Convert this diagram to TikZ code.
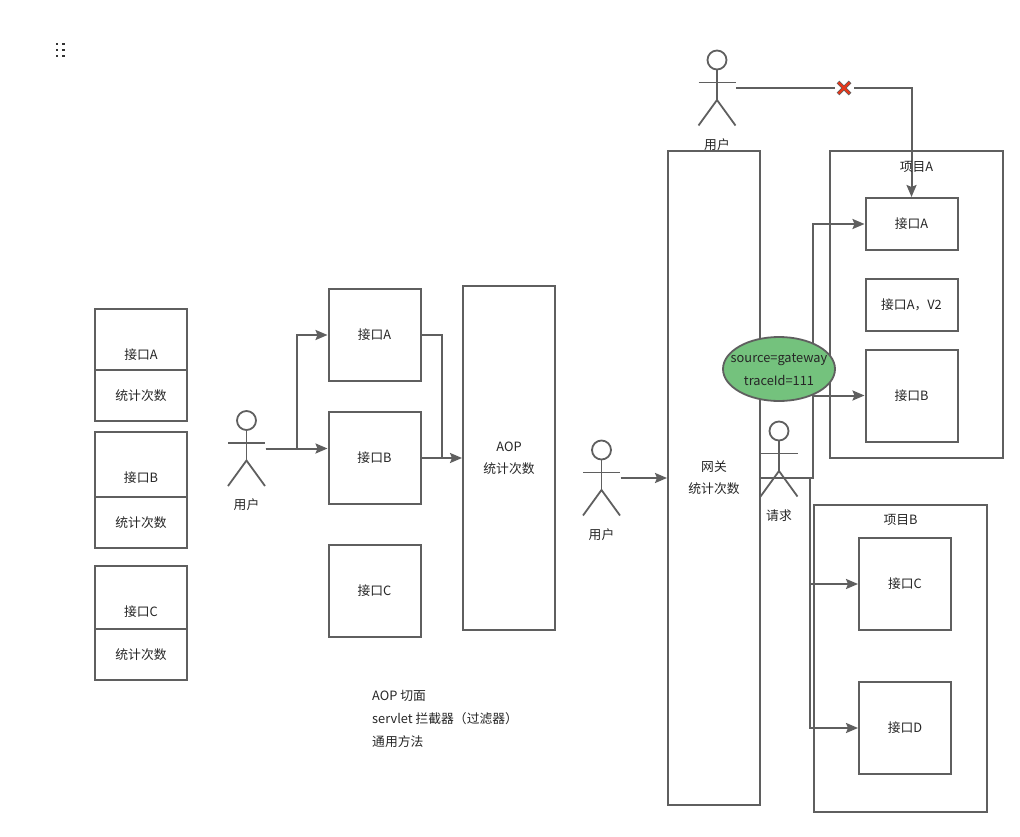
\documentclass[tikz,border=0pt]{standalone}
\usepackage{fontspec}
\setmainfont{Noto Sans CJK SC}
\usetikzlibrary{arrows.meta,shapes.geometric}
\definecolor{linegray}{HTML}{5F5F5F}
\definecolor{ovalgreen}{HTML}{74C27D}
\definecolor{crossred}{HTML}{E5381B}
\tikzset{
	box/.style={draw=linegray,line width=2pt,fill=white,minimum width=#1,inner sep=0pt,align=center,font=\fontsize{12.8}{22}\selectfont,text=black!85},
	box/.default=92pt,
	word/.style={inner sep=0pt,font=\fontsize{12.8}{22}\selectfont,text=black!85},
	actorbox/.style={minimum width=38pt,minimum height=75pt,inner sep=0pt},
	conn/.style={draw=linegray,line width=2pt,>={Stealth[length=12pt,width=10pt,inset=2pt]}},
}
% stick figure: name, x, y, text
\newcommand{\actorfig}[4]{
	\node[actorbox] (#1) at (#2,#3) {};
	\begin{scope}[shift={(#2,#3)},draw=linegray,line width=1.8pt]
		\draw (0,-28) circle (9.5pt);
		\draw (0,-18.5)--(0,12) (-18.5,-5.5)--(18.5,-5.5);
		\draw (-18.5,37.5)--(0,12)--(18.5,37.5);
	\end{scope}
	\node[word] (#1text) at (#2,#3+56.5) {#4};
}
\begin{document}
\begin{tikzpicture}[x=1pt,y=-1pt]
	\useasboundingbox (0,0) rectangle (1020,837);
	% handle in the corner
	\foreach \px in {56.7,63.3}
		\foreach \py in {44.3,50.2,56}
			\fill[black!80] (\px-1.2,\py-1.2) rectangle (\px+1.2,\py+1.2);

	% left column
	\node[box,minimum height=92pt] (leftA) at (141,355) {接口A};
	\node[box,minimum height=51pt] (countA) at (141,395.5) {统计次数};
	\node[box,minimum height=92pt] (leftB) at (141,478) {接口B};
	\node[box,minimum height=51pt] (countB) at (141,522.5) {统计次数};
	\node[box,minimum height=92pt] (leftC) at (141,612) {接口C};
	\node[box,minimum height=51pt] (countC) at (141,654.5) {统计次数};

	% middle column
	\actorfig{userA}{246.5}{448.5}{用户}
	\node[box,minimum height=92pt] (midA) at (374.5,335) {接口A};
	\node[box,minimum height=92pt] (midB) at (374.5,458) {接口B};
	\node[box,minimum height=92pt] (midC) at (374.5,591) {接口C};
	\node[box,minimum height=344pt] (aop) at (509,458) {AOP\\统计次数};
	\coordinate (forkA) at (296.5,448.5);
	\coordinate (forkB) at (442,458);
	\draw[conn,->] (userA.east)--(forkA) |- (midA.west);
	\draw[conn,->] (userA.east)--(midB.west |- userA.east);
	\draw[conn] (midA.east) -| (forkB);
	\draw[conn,->] (midB.east)--(aop.west);
	\node[word,anchor=north west,align=left,font=\fontsize{12.8}{23}\selectfont] (notes) at (372,690) {AOP 切面\\servlet 拦截器（过滤器）\\通用方法};

	% gateway and projects
	\actorfig{userB}{601.5}{478}{用户}
	\node[box,minimum height=654pt] (gateway) at (714,478) {网关\\统计次数};
	\draw[conn,->] (userB.east)--(gateway.west);
	\node[box,minimum width=173pt,minimum height=307pt] (projA) at (916.5,304.5) {};
	\node[box,minimum height=52pt] (rightA) at (911.5,224) {接口A};
	\node[box,minimum height=52pt] (rightV) at (911.5,304.5) {接口A，V2};
	\node[box,minimum height=92pt] (rightB) at (911.5,395.5) {接口B};
	\node[box,minimum width=173pt,minimum height=307pt] (projB) at (900.5,658.5) {};
	\node[word] (projBtext) at (900.5,520) {项目B};
	\node[box,minimum height=92pt] (rightC) at (905,584) {接口C};
	\node[box,minimum height=92pt] (rightD) at (905,728) {接口D};
	\coordinate (forkC) at (812.5,478);
	\coordinate (forkD) at (809.5,478);
	\draw[conn,->] (gateway.east)--(forkC) |- (rightA.west);
	\draw[conn,->] (forkC) |- (rightB.west);
	\draw[conn,->] (forkD) |- (rightC.west);
	\draw[conn,->] (forkD) |- (rightD.west);

	% blocked route from above
	\actorfig{userC}{717}{88}{用户}
	\draw[conn,->] (userC.east) -| (rightA.north);
	\node[word] (projAtext) at (916.5,166.5) {项目A};
	\node[fill=white,minimum width=19pt,minimum height=14pt,inner sep=0pt] (block) at (844,88) {};
	\draw[linegray,line width=3.6pt] (block.center)+(-6,-6)--+(6,6) (block.center)+(-6,6)--+(6,-6);
	\draw[crossred,line width=2.4pt] (block.center)+(-5.6,-5.6)--+(5.6,5.6) (block.center)+(-5.6,5.6)--+(5.6,-5.6);

	% oval over the gateway
	\node[draw=linegray,line width=1.8pt,fill=ovalgreen,ellipse,minimum width=112pt,minimum height=64pt,inner sep=0pt] (tag) at (779,369) {};
	\node[word,align=center,font=\fontsize{12.8}{23}\selectfont] (tagtext) at (779,370) {source=gateway\\traceId=111};
	\actorfig{request}{779}{459}{请求}
\end{tikzpicture}
\end{document}
